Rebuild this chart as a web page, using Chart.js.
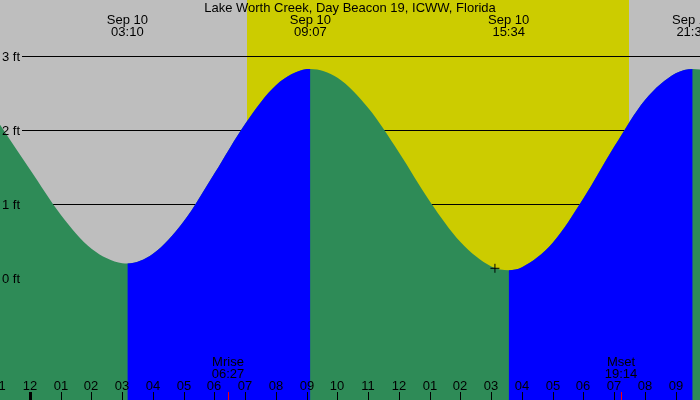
<!DOCTYPE html>
<html><head><meta charset="utf-8">
<script src="https://cdn.jsdelivr.net/npm/chart.js@4"></script>
<style>html,body{margin:0;padding:0;background:#fff}canvas{display:block}</style>
</head><body>
<canvas id="c" width="700" height="400"></canvas>
<script>
// ---- data (hours since midnight Sep 10, heights in feet) ----
const chartTitle = 'Lake Worth Creek, Day Beacon 19, ICWW, Florida';
const tideHours = [-1, 0, 1, 2, 3, 3.167, 4, 5, 6, 7, 8, 9, 9.117, 10, 11, 12, 13, 14, 15, 15.567, 16, 17, 18, 19, 20, 21, 21.55, 21.79];
const tideFeet  = [2.09, 1.47, 0.86, 0.40, 0.204, 0.20, 0.33, 0.77, 1.42, 2.09, 2.61, 2.827, 2.83, 2.71, 2.30, 1.70, 1.04, 0.49, 0.16, 0.11, 0.15, 0.48, 1.08, 1.78, 2.41, 2.77, 2.83, 2.82];
const extremeHours = [3.167, 9.117, 15.567, 21.55];
const extremeTypes = ['L', 'H', 'L', 'H'];
const extremeDates = ['Sep 10', 'Sep 10', 'Sep 10', 'Sep 10'];
const extremeTimes = ['03:10', '09:07', '15:34', '21:33'];
const sunriseHour = 7.057;
const sunsetHour = 19.48;
const moonHours = [6.45, 19.233];
const moonNames = ['Mrise', 'Mset'];
const moonTimes = ['06:27', '19:14'];
const hourTicks = [-1,0,1,2,3,4,5,6,7,8,9,10,11,12,13,14,15,16,17,18,19,20,21];
const hourLabels = ['11','12','01','02','03','04','05','06','07','08','09','10','11','12','01','02','03','04','05','06','07','08','09'];
const midnightHour = 0;
const feetTicks = [0, 1, 2, 3];
const feetLabels = ['0 ft', '1 ft', '2 ft', '3 ft'];
const nowHour = 15.12;
const nowFeet = 0.135;

// ---- styling ----
const GRAY = '#BEBEBE', YELLOW = '#CCCC00', GREEN = '#2E8B57', BLUE = '#0000FF';
const FONT = '13px "Liberation Sans", Arial, sans-serif';

function isRising(x) {
  for (let i = 0; i < extremeHours.length; i++) {
    if (extremeHours[i] >= x - 1e-6) return extremeTypes[i] === 'H';
  }
  return false;
}

const decor = {
  id: 'decor',
  beforeDatasetsDraw(chart) {
    const {ctx, scales: {x, y}} = chart;
    ctx.save();
    ctx.fillStyle = GRAY;
    ctx.fillRect(0, 0, chart.width, chart.height);
    const sx = x.getPixelForValue(sunriseHour), ex = x.getPixelForValue(sunsetHour);
    ctx.fillStyle = YELLOW;
    ctx.fillRect(Math.round(sx), 0, Math.round(ex) - Math.round(sx), chart.height);
    ctx.strokeStyle = '#000';
    ctx.lineWidth = 1;
    feetTicks.forEach(v => {
      const py = Math.round(y.getPixelForValue(v)) + 0.5;
      ctx.beginPath(); ctx.moveTo(22, py); ctx.lineTo(chart.width, py); ctx.stroke();
    });
    ctx.restore();
  },
  afterDatasetsDraw(chart) {
    const {ctx, scales: {x, y}} = chart;
    ctx.save();
    ctx.fillStyle = '#000';
    ctx.font = FONT;
    ctx.textBaseline = 'alphabetic';
    ctx.textAlign = 'center';
    ctx.fillText(chartTitle, 350, 12);
    extremeHours.forEach((h, i) => {
      const px = x.getPixelForValue(h);
      ctx.fillText(extremeDates[i], px, 24);
      ctx.fillText(extremeTimes[i], px, 36);
    });
    ctx.textAlign = 'left';
    feetTicks.forEach((v, i) => {
      const py = y.getPixelForValue(v);
      ctx.fillText(feetLabels[i], 2, py + 4.5);
    });
    ctx.textAlign = 'center';
    hourTicks.forEach((h, i) => {
      const px = Math.round(x.getPixelForValue(h));
      ctx.fillText(hourLabels[i], px, 390);
      if (h === midnightHour) ctx.fillRect(px - 1, 392, 3, 8);
      else ctx.fillRect(px, 392, 1, 8);
    });
    moonHours.forEach((h, i) => {
      const px = Math.round(x.getPixelForValue(h));
      ctx.fillStyle = '#000';
      ctx.fillText(moonNames[i], px, 366);
      ctx.fillText(moonTimes[i], px, 378);
      ctx.fillStyle = '#FF0000';
      ctx.fillRect(px, 392, 1, 8);
    });
    ctx.restore();
  }
};

const tidePoints = tideHours.map((h, i) => ({x: h, y: tideFeet[i]}));

new Chart(document.getElementById('c'), {
  type: 'line',
  data: {
    datasets: [
      {
        order: 0,
        data: [{x: nowHour, y: nowFeet}],
        showLine: false,
        pointStyle: 'cross',
        pointRadius: 4.5,
        borderColor: '#000',
        borderWidth: 1,
        backgroundColor: '#000'
      },
      {
        // rising (flood) parts, drawn on top of the full falling fill
        order: 1,
        data: tidePoints,
        cubicInterpolationMode: 'monotone',
        pointRadius: 0,
        borderColor: 'rgba(0,0,0,0)',
        borderWidth: 0,
        fill: 'start',
        backgroundColor: 'rgba(0,0,0,0)',
        segment: {
          backgroundColor: ctx => isRising(ctx.p1.parsed.x) ? BLUE : 'rgba(0,0,0,0)'
        }
      },
      {
        // whole tide area in green (ebb colour)
        order: 2,
        data: tidePoints,
        cubicInterpolationMode: 'monotone',
        pointRadius: 0,
        borderColor: 'rgba(0,0,0,0)',
        borderWidth: 0,
        fill: 'start',
        backgroundColor: GREEN
      }
    ]
  },
  options: {
    responsive: false,
    devicePixelRatio: 1,
    animation: false,
    layout: {padding: 0, autoPadding: false},
    plugins: {legend: {display: false}, tooltip: {enabled: false}, title: {display: false}},
    scales: {
      x: {type: 'linear', min: -0.9756, max: 21.789, display: false},
      y: {type: 'linear', min: -1.645, max: 3.761, display: false}
    }
  },
  plugins: [decor]
});
</script>
</body></html>
